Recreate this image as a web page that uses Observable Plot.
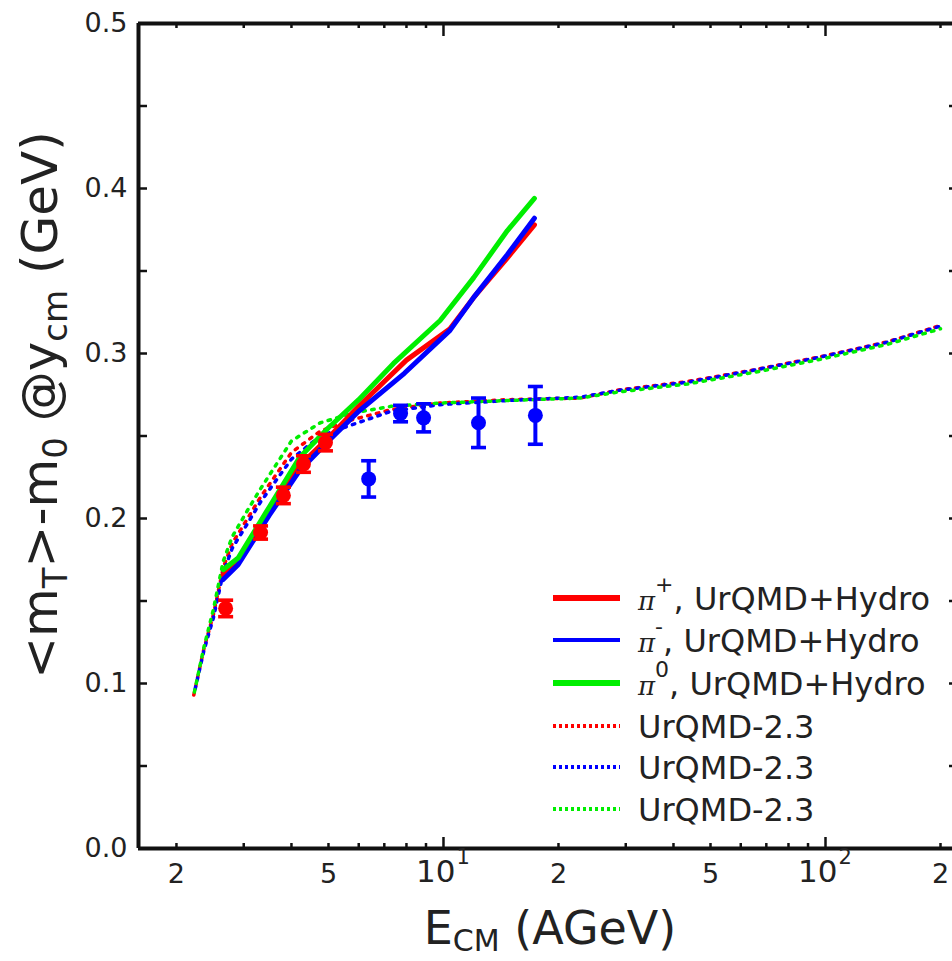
<!DOCTYPE html>
<html><head><meta charset="utf-8">
<script src="https://cdn.jsdelivr.net/npm/d3@7"></script>
<script src="https://cdn.jsdelivr.net/npm/@observablehq/plot@0.6"></script>
<style>
html,body{margin:0;padding:0;background:#fff;}
#wrap{position:relative;width:952px;height:961px;overflow:hidden;font-family:"DejaVu Sans",sans-serif;}
#legend{position:absolute;left:0;top:0;pointer-events:none;}
</style></head><body><div id="wrap"></div>
<script>
// ---- data ----
const hydroRedX   = [2.65, 2.9, 3.5, 4.2, 5.0, 6.0, 7.0, 8.0, 10.4, 12, 14.7, 17.3];
const hydroRedY   = [0.166,0.174,0.205,0.232,0.249,0.268,0.283,0.296,0.315,0.334,0.358,0.378];
const hydroBlueX  = [2.65, 2.9, 3.5, 4.2, 5.0, 6.0, 7.9, 10.4, 12, 14.7, 17.3];
const hydroBlueY  = [0.163,0.172,0.202,0.229,0.247,0.265,0.288,0.314,0.334,0.36,0.382];
const hydroGreenX = [2.65, 2.9, 3.5, 4.2, 5.0, 6.0, 7.4, 9.8, 12, 14.7, 17.3];
const hydroGreenY = [0.169,0.176,0.207,0.237,0.255,0.272,0.294,0.32,0.346,0.3745,0.394];

const urqmdX      = [2.22,2.36,2.5,2.65,2.8,3.07,3.32,4.0,4.76,5.8,7.3,9.8,14.7,22.8,29,43.5,64.8,97,145,200];
const urqmdRedY   = [0.093,0.121,0.142,0.170,0.185,0.200,0.213,0.240,0.253,0.260,0.266,0.270,0.272,0.273,0.278,0.283,0.290,0.298,0.307,0.317];
const urqmdBlueY  = [0.093,0.120,0.140,0.167,0.182,0.197,0.210,0.236,0.250,0.257,0.265,0.269,0.2715,0.2735,0.2778,0.2826,0.2898,0.2978,0.3068,0.3166];
const urqmdGreenY = [0.093,0.122,0.145,0.174,0.189,0.205,0.218,0.247,0.258,0.264,0.268,0.270,0.2715,0.273,0.2768,0.2815,0.2885,0.2965,0.3055,0.315];

const dataRedX  = [2.69, 3.32, 3.81, 4.3, 4.91];
const dataRedY  = [0.1455, 0.1915, 0.214, 0.233, 0.246];
const dataRedE  = [0.005, 0.004, 0.005, 0.005, 0.005];
const dataBlueX = [6.37, 7.72, 8.87, 12.35, 17.4];
const dataBlueY = [0.224, 0.2636, 0.261, 0.258, 0.2625];
const dataBlueE = [0.011, 0.005, 0.0085, 0.015, 0.0175];

const xMinorTicks = [2,3,4,5,6,7,8,9,20,30,40,50,60,70,80,90,200];
const xMajorTicks = [10,100];
const yTickVals   = [0.05,0.1,0.15,0.2,0.25,0.3,0.35,0.4,0.45];
const xLabelVals  = [2,5,20,50,200];
const xLabelText  = ["2","5","2","5","2"];
const xDecadeVals = [10,100];
const xDecadeExp  = ["1","2"];
const yLabelVals  = [0,0.1,0.2,0.3,0.4,0.5];

const legendItems = [
  {color:"#ff0000", width:6, dash:null, pi:"+", label:", UrQMD+Hydro"},
  {color:"#0000ff", width:4, dash:null, pi:"-", label:", UrQMD+Hydro"},
  {color:"#00ee00", width:6, dash:null, pi:"0", label:", UrQMD+Hydro"},
  {color:"#ff0000", width:4, dash:"3,3", pi:null, label:"UrQMD-2.3"},
  {color:"#0000ff", width:4, dash:"3,3", pi:null, label:"UrQMD-2.3"},
  {color:"#00ee00", width:4, dash:"3,3", pi:null, label:"UrQMD-2.3"}
];

// ---- build ----
const zipXY = (xs, ys) => xs.map((x,i)=>({x, y: ys[i]}));
const pts = (xs, ys, es) => xs.map((x,i)=>({x, y: ys[i], e: es[i]}));

const W = 952, H = 961, mL = 138, mR = 0, mT = 23, mB = 113;
const plotW = W - mL - mR, plotH = H - mT - mB;
const xDomain = [1.591, 215];

const capSymbol = {draw(ctx, size){ const w = Math.sqrt(size/Math.PI)*2; const h = 1.8; ctx.moveTo(-w/2,-h); ctx.lineTo(w/2,-h); ctx.lineTo(w/2,h); ctx.lineTo(-w/2,h); ctx.closePath(); }};

function errMarks(data, color){
  return [
    Plot.ruleX(data, {x:"x", y1: d=>d.y-d.e, y2: d=>d.y+d.e, stroke: color, strokeWidth: 4}),
    Plot.dot(data, {x:"x", y: d=>d.y-d.e, r: 7.5, symbol: capSymbol, fill: color, stroke: "none"}),
    Plot.dot(data, {x:"x", y: d=>d.y+d.e, r: 7.5, symbol: capSymbol, fill: color, stroke: "none"}),
    Plot.dot(data, {x:"x", y:"y", r: 7.5, fill: color, stroke: "none"})
  ];
}

const tickColor = "#111";
const dotted = {strokeWidth: 3.5, strokeDasharray: "2.5,6.5"};
const chart = Plot.plot({
  width: W, height: H,
  marginLeft: mL, marginRight: mR, marginTop: mT, marginBottom: mB,
  x: {type: "log", domain: xDomain, axis: null},
  y: {domain: [0, 0.5], axis: null},
  style: {fontFamily: "'DejaVu Sans', sans-serif", background: "#fff"},
  marks: [
    // UrQMD-2.3 dotted
    Plot.line(zipXY(urqmdX, urqmdRedY),   {x:"x", y:"y", stroke:"#ff0000", ...dotted, strokeDashoffset:0}),
    Plot.line(zipXY(urqmdX, urqmdBlueY),  {x:"x", y:"y", stroke:"#0000ff", ...dotted, strokeDashoffset:3}),
    Plot.line(zipXY(urqmdX, urqmdGreenY), {x:"x", y:"y", stroke:"#00ee00", ...dotted, strokeDashoffset:6}),
    // UrQMD+Hydro solid
    Plot.line(zipXY(hydroRedX, hydroRedY),     {x:"x", y:"y", stroke:"#ff0000", strokeWidth:5}),
    Plot.line(zipXY(hydroBlueX, hydroBlueY),   {x:"x", y:"y", stroke:"#0000ff", strokeWidth:5}),
    Plot.line(zipXY(hydroGreenX, hydroGreenY), {x:"x", y:"y", stroke:"#00ee00", strokeWidth:5}),
    // data points
    ...errMarks(pts(dataRedX, dataRedY, dataRedE), "#ff0000"),
    ...errMarks(pts(dataBlueX, dataBlueY, dataBlueE), "#0000ff"),
    // ticks (inward)
    Plot.tickX(xMinorTicks, {x: d=>d, insetTop: plotH-5, stroke: tickColor, strokeWidth: 2.5}),
    Plot.tickX(xMinorTicks, {x: d=>d, insetBottom: plotH-5, stroke: tickColor, strokeWidth: 2.5}),
    Plot.tickX(xMajorTicks, {x: d=>d, insetTop: plotH-11, stroke: tickColor, strokeWidth: 2.5}),
    Plot.tickX(xMajorTicks, {x: d=>d, insetBottom: plotH-13, stroke: tickColor, strokeWidth: 2.5}),
    Plot.tickY(yTickVals, {y: d=>d, insetRight: plotW-9, stroke: tickColor, strokeWidth: 2.5}),
    Plot.tickY(yTickVals, {y: d=>d, insetLeft: plotW-3, stroke: tickColor, strokeWidth: 2.5}),
    // frame
    Plot.ruleX([xDomain[0]], {stroke: tickColor, strokeWidth: 4}),
    Plot.ruleY([0, 0.5], {stroke: tickColor, strokeWidth: 4}),
    // tick labels
    Plot.text(xLabelVals, {x: d=>d, text: (d,i)=>xLabelText[i], frameAnchor:"bottom", dy: 34, fontSize: 27, fill:"#222"}),
    Plot.text(xDecadeVals, {x: d=>d, text: ()=> "10", frameAnchor:"bottom", dy: 33, dx: 12, textAnchor:"end", fontSize: 31, fill:"#222"}),
    Plot.text(xDecadeVals, {x: d=>d, text: (d,i)=>xDecadeExp[i], frameAnchor:"bottom", dy: 15, dx: 13, textAnchor:"start", fontSize: 21, fill:"#222"}),
    Plot.text(yLabelVals, {y: d=>d, text: d=>d.toFixed(1), frameAnchor:"left", dx: -11, textAnchor:"end", fontSize: 27, fill:"#222"})
  ]
});
document.getElementById("wrap").appendChild(chart);

// axis titles
const svg = d3.select(chart);
const yl = svg.append("text")
  .attr("transform", "translate(57,405) rotate(-90)")
  .attr("text-anchor", "middle").attr("font-size", 50).attr("fill", "#222")
  .attr("font-family", "'DejaVu Sans', sans-serif");
yl.append("tspan").text("<m");
yl.append("tspan").attr("dy", 10).attr("font-size", 34).text("T");
yl.append("tspan").attr("dy", -10).text(">-m");
yl.append("tspan").attr("dy", 10).attr("font-size", 34).text("0");
yl.append("tspan").attr("dy", -10).text(" @y");
yl.append("tspan").attr("dy", 10).attr("font-size", 34).text("cm");
yl.append("tspan").attr("dy", -10).text(" (GeV)");

const xl = svg.append("text")
  .attr("x", 550).attr("y", 944)
  .attr("text-anchor", "middle").attr("font-size", 46).attr("fill", "#222")
  .attr("font-family", "'DejaVu Sans', sans-serif");
xl.append("tspan").text("E");
xl.append("tspan").attr("dy", 7).attr("font-size", 30).text("CM");
xl.append("tspan").attr("dy", -7).text(" (AGeV)");

// legend
const rowY = [598, 640, 683, 726, 767, 809];
const lg = d3.select("#wrap").append("svg").attr("id","legend").attr("width", W).attr("height", H);
legendItems.forEach((it, i) => {
  const y = rowY[i];
  const ln = lg.append("line").attr("x1", 553).attr("x2", 620).attr("y1", y).attr("y2", y)
    .attr("stroke", it.color).attr("stroke-width", it.width);
  if (it.dash) ln.attr("stroke-dasharray", it.dash);
  const t = lg.append("text").attr("x", 638).attr("y", y + 12).attr("font-size", 32).attr("fill", "#222")
    .attr("font-family", "'DejaVu Sans', sans-serif");
  if (it.pi) {
    t.append("tspan").attr("font-size", 26).attr("font-family", "'DejaVu Serif', serif").attr("font-style","italic").text("\u03c0");
    t.append("tspan").attr("dy", -18).attr("font-size", 22).text(it.pi);
    t.append("tspan").attr("dy", 18).text(it.label);
  } else {
    t.text(it.label);
  }
});
</script>
</body></html>
